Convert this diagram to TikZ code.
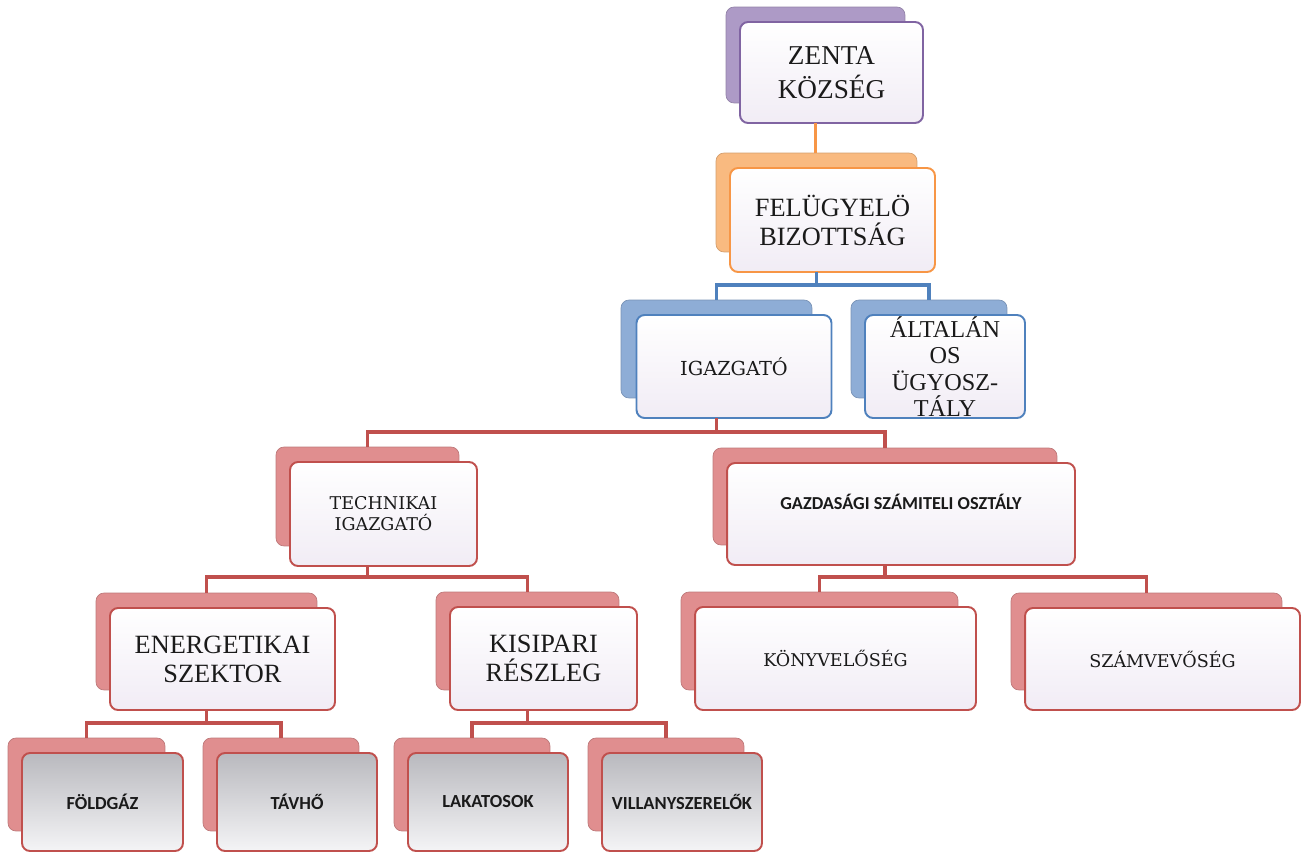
\documentclass[tikz,border=0pt]{standalone}
\usepackage{fontspec}
\IfFontExistsTF{LiberationSerif-Regular.ttf}
  {\setmainfont{LiberationSerif}[Extension=.ttf, UprightFont=*-Regular, BoldFont=*-Bold, ItalicFont=*-Italic, BoldItalicFont=*-BoldItalic]}
  {\setmainfont{Liberation Serif}}
\newfontfamily\slabfamily{DejaVu Serif}
\newfontfamily\calibfamily{Carlito}
\usetikzlibrary{calc}

\definecolor{purpleline}{HTML}{8064A2}
\definecolor{purpleback}{HTML}{AD9AC6}
\definecolor{orangeline}{HTML}{F79646}
\definecolor{orangeback}{HTML}{F9BA80}
\definecolor{blueline}{HTML}{4F81BD}
\definecolor{blueback}{HTML}{8EADD6}
\definecolor{redline}{HTML}{C0504D}
\definecolor{redback}{HTML}{E08E8F}
\definecolor{frontfill}{HTML}{F1ECF5}
\definecolor{greytop}{HTML}{B9B9BE}
\definecolor{greybot}{HTML}{F4F4F6}
\definecolor{textgray}{HTML}{1A1A1A}

\tikzset{
  box/.style={rectangle, rounded corners=0.16cm, inner sep=0pt, outer sep=0pt, align=center, text=textgray},
  backbox/.style={box, fill=#1, draw=#1!85!black, line width=0.4pt},
  frontbox/.style={box, draw=#1, line width=1.1pt, top color=white, bottom color=frontfill},
  greybox/.style={box, draw=#1, line width=1.1pt, top color=greytop, bottom color=greybot},
  conn/.style={draw=#1, line width=2.2pt},
  bigtext/.style={font=\rmfamily\fontsize{15}{16.5}\selectfont},
  slabtext/.style={font=\slabfamily\fontsize{10}{12}\selectfont},
  caltext/.style={font=\calibfamily\bfseries\fontsize{10.5}{12}\selectfont},
}

\begin{document}
\begin{tikzpicture}[x=0.02cm, y=-0.02cm]
\useasboundingbox (0,0) rectangle (1302,855);

\node[backbox=purpleback, minimum width=3.58cm, minimum height=1.92cm] (zentab) at (815.5,55) {};
\node[frontbox=purpleline, font=\rmfamily\fontsize{15.5}{19}\selectfont, minimum width=3.66cm, minimum height=2.02cm] (zenta) at (831.5,72.5) {ZENTA\\KÖZSÉG};

\node[backbox=orangeback, minimum width=4.02cm, minimum height=1.98cm] (felugyb) at (816.5,202.5) {};
\node[frontbox=orangeline, bigtext, minimum width=4.10cm, minimum height=2.08cm] (felugy) at (832.5,220) {FELÜGYELÖ\\BIZOTTSÁG};

\node[backbox=blueback, minimum width=3.82cm, minimum height=1.96cm] (igazgb) at (716.5,349) {};
\node[frontbox=blueline, font=\slabfamily\fontsize{11}{13}\selectfont, minimum width=3.90cm, minimum height=2.06cm] (igazg) at (734,366.5) {IGAZGATÓ};

\node[backbox=blueback, minimum width=3.12cm, minimum height=1.96cm] (altalb) at (929,349) {};
\node[frontbox=blueline, font=\rmfamily\fontsize{13.8}{15}\selectfont, minimum width=3.20cm, minimum height=2.06cm] (altal) at (945,366.5) {ÁLTALÁN\\OS\\ÜGYOSZ-\\TÁLY};

\node[backbox=redback, minimum width=3.66cm, minimum height=1.98cm] (technb) at (367.5,496.5) {};
\node[frontbox=redline, slabtext, minimum width=3.74cm, minimum height=2.08cm] (techn) at (383.5,514) {TECHNIKAI\\IGAZGATÓ};

\node[backbox=redback, minimum width=6.88cm, minimum height=1.94cm] (gazdb) at (885,496.5) {};
\node[frontbox=redline, font=\calibfamily\bfseries\fontsize{10.4}{12}\selectfont, minimum width=6.96cm, minimum height=2.04cm] (gazd) at (901,514) {\raisebox{0.24cm}[\height][\depth]{GAZDASÁGI SZÁMITELI OSZTÁLY}};

\node[backbox=redback, minimum width=4.42cm, minimum height=1.94cm] (energb) at (206.5,641.5) {};
\node[frontbox=redline, bigtext, minimum width=4.50cm, minimum height=2.04cm] (energ) at (222.5,659) {ENERGETIKAI\\SZEKTOR};

\node[backbox=redback, minimum width=3.66cm, minimum height=1.96cm] (kisipb) at (527.5,641) {};
\node[frontbox=redline, bigtext, minimum width=3.74cm, minimum height=2.06cm] (kisip) at (543.5,658.5) {KISIPARI\\RÉSZLEG};

\node[backbox=redback, minimum width=5.54cm, minimum height=1.96cm] (konyvb) at (819.5,641) {};
\node[frontbox=redline, slabtext, minimum width=5.62cm, minimum height=2.06cm] (konyv) at (835.5,658.5) {KÖNYVELŐSÉG};

\node[backbox=redback, minimum width=5.42cm, minimum height=1.94cm] (szamvb) at (1146.5,641.5) {};
\node[frontbox=redline, slabtext, minimum width=5.50cm, minimum height=2.04cm] (szamv) at (1162.5,659) {SZÁMVEVŐSÉG};

\node[backbox=redback, minimum width=3.14cm, minimum height=1.86cm] (foldgb) at (86.5,784.5) {};
\node[greybox=redline, caltext, minimum width=3.22cm, minimum height=1.96cm] (foldg) at (102.5,802) {FÖLDGÁZ};

\node[backbox=redback, minimum width=3.12cm, minimum height=1.86cm] (tavhob) at (281,784.5) {};
\node[greybox=redline, caltext, minimum width=3.20cm, minimum height=1.96cm] (tavho) at (297,802) {TÁVHŐ};

\node[backbox=redback, minimum width=3.12cm, minimum height=1.86cm] (lakatb) at (472,784.5) {};
\node[greybox=redline, caltext, minimum width=3.20cm, minimum height=1.96cm] (lakat) at (488,802) {LAKATOSOK};

\node[backbox=redback, minimum width=3.12cm, minimum height=1.86cm] (villab) at (666,784.5) {};
\node[greybox=redline, caltext, minimum width=3.20cm, minimum height=1.96cm] (villa) at (682,802) {VILLANYSZERELŐK};

\path[conn=orangeline] (zentab |- zenta.south) -- (zentab |- felugyb.north);

\path[conn=blueline] (felugyb |- felugy.south) -- ++(0,13) -| (igazgb.north);
\path[conn=blueline] (felugyb |- felugy.south) -- ++(0,13) -| (altalb.north);

\path[conn=redline] (igazgb |- igazg.south) -- ++(0,14) -| (technb.north);
\path[conn=redline] (igazgb |- igazg.south) -- ++(0,14) -| (gazdb.north);

\path[conn=redline] (technb |- techn.south) -- ++(0,11) -| (energb.north);
\path[conn=redline] (technb |- techn.south) -- ++(0,11) -| (kisipb.north);

\path[conn=redline] (gazdb |- gazd.south) -- ++(0,12) -| (konyvb.north);
\path[conn=redline] (gazdb |- gazd.south) -- ++(0,12) -| (szamvb.north);

\path[conn=redline] (energb |- energ.south) -- ++(0,13) -| (foldgb.north);
\path[conn=redline] (energb |- energ.south) -- ++(0,13) -| (tavhob.north);

\path[conn=redline] (kisipb |- kisip.south) -- ++(0,13) -| (lakatb.north);
\path[conn=redline] (kisipb |- kisip.south) -- ++(0,13) -| (villab.north);
\end{tikzpicture}
\end{document}
